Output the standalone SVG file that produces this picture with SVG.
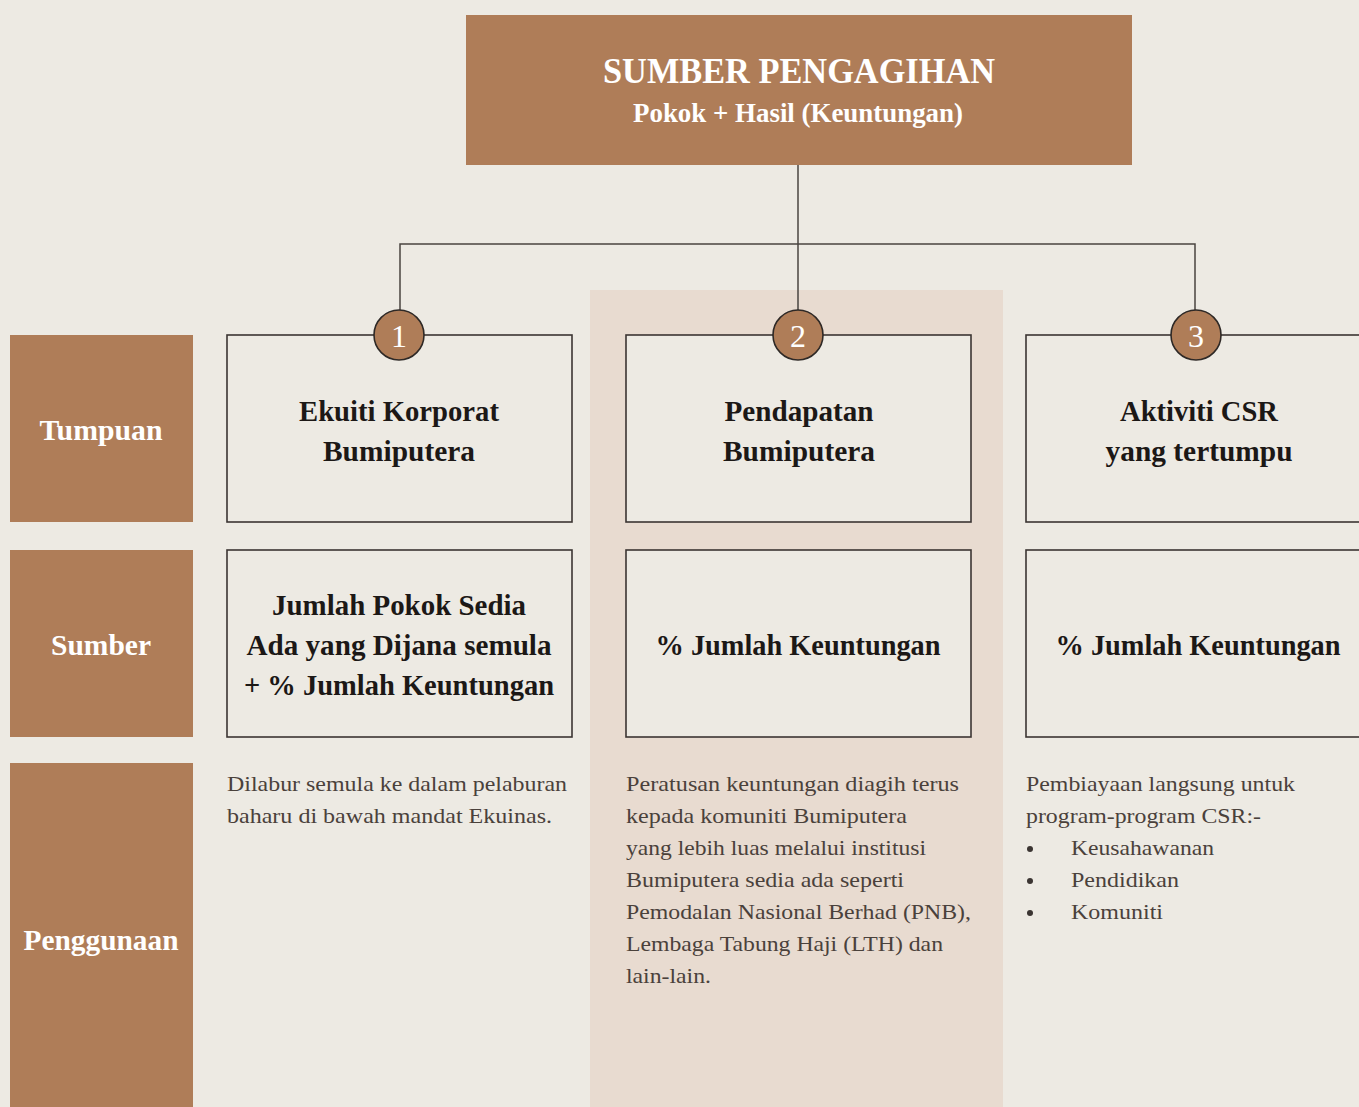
<svg xmlns="http://www.w3.org/2000/svg" width="1359" height="1107" viewBox="0 0 1359 1107">
<style>
.bg{fill:#EDEAE3}
.brown{fill:#AF7D58}
.box{fill:#EDEAE3;stroke:#3b3532;stroke-width:1.6}
.circ{fill:#AF7D58;stroke:#2e2926;stroke-width:1.6}
.conn{fill:none;stroke:#4a4440;stroke-width:1.5}
.lbl{font-family:"Liberation Serif",serif;font-weight:bold;font-size:30px;fill:#ffffff;text-anchor:middle}
.ttl{font-family:"Liberation Serif",serif;font-weight:bold;fill:#ffffff;text-anchor:middle}
.num{font-family:"Liberation Serif",serif;font-size:32px;fill:#ffffff;text-anchor:middle}
.bt{font-family:"Liberation Serif",serif;font-weight:bold;font-size:30px;fill:#1c1816;text-anchor:middle}
.us{font-family:"Liberation Serif",serif;font-size:22px;fill:#4a413b}
</style>
<rect class="bg" x="0" y="0" width="1359" height="1107"/>
<rect x="590" y="290" width="413" height="817" fill="#E8DBD0"/>

<g id="connectors">
<path class="conn" d="M798 165 V310"/>
<path class="conn" d="M400 310 V244 H1195 V310"/>
</g>

<g id="root">
<rect class="brown" x="466" y="15" width="666" height="150"/>
<text class="ttl" x="799" y="83" font-size="36" textLength="392" lengthAdjust="spacingAndGlyphs">SUMBER PENGAGIHAN</text>
<text class="ttl" x="798" y="122" font-size="27" textLength="330" lengthAdjust="spacingAndGlyphs">Pokok + Hasil (Keuntungan)</text>
</g>

<g id="label-tumpuan">
<rect class="brown" x="10" y="335" width="183" height="187"/>
<text class="lbl" x="101" y="440" textLength="123" lengthAdjust="spacingAndGlyphs">Tumpuan</text>
</g>
<g id="label-sumber">
<rect class="brown" x="10" y="550" width="183" height="187"/>
<text class="lbl" x="101" y="655" textLength="100" lengthAdjust="spacingAndGlyphs">Sumber</text>
</g>
<g id="label-penggunaan">
<rect class="brown" x="10" y="763" width="183" height="344"/>
<text class="lbl" x="101" y="950" textLength="155" lengthAdjust="spacingAndGlyphs">Penggunaan</text>
</g>

<g id="tumpuan-1">
<rect class="box" x="227" y="335" width="345" height="187"/>
<text class="bt" x="399" y="421" textLength="200" lengthAdjust="spacingAndGlyphs">Ekuiti Korporat</text>
<text class="bt" x="399" y="461" textLength="152" lengthAdjust="spacingAndGlyphs">Bumiputera</text>
</g>
<g id="tumpuan-2">
<rect class="box" x="626" y="335" width="345" height="187"/>
<text class="bt" x="799" y="421" textLength="149" lengthAdjust="spacingAndGlyphs">Pendapatan</text>
<text class="bt" x="799" y="461" textLength="152" lengthAdjust="spacingAndGlyphs">Bumiputera</text>
</g>
<g id="tumpuan-3">
<rect class="box" x="1026" y="335" width="345" height="187"/>
<text class="bt" x="1199" y="421" textLength="158" lengthAdjust="spacingAndGlyphs">Aktiviti CSR</text>
<text class="bt" x="1199" y="461" textLength="187" lengthAdjust="spacingAndGlyphs">yang tertumpu</text>
</g>

<g id="badge-1">
<circle class="circ" cx="399" cy="335" r="25"/>
<text class="num" x="399" y="347">1</text>
</g>
<g id="badge-2">
<circle class="circ" cx="798" cy="335" r="25"/>
<text class="num" x="798" y="347">2</text>
</g>
<g id="badge-3">
<circle class="circ" cx="1196" cy="335" r="25"/>
<text class="num" x="1196" y="347">3</text>
</g>

<g id="sumber-1">
<rect class="box" x="227" y="550" width="345" height="187"/>
<text class="bt" x="399" y="615" textLength="254" lengthAdjust="spacingAndGlyphs">Jumlah Pokok Sedia</text>
<text class="bt" x="399" y="655" textLength="305" lengthAdjust="spacingAndGlyphs">Ada yang Dijana semula</text>
<text class="bt" x="399" y="695" textLength="310" lengthAdjust="spacingAndGlyphs">+ % Jumlah Keuntungan</text>
</g>
<g id="sumber-2">
<rect class="box" x="626" y="550" width="345" height="187"/>
<text class="bt" x="798" y="655" textLength="285" lengthAdjust="spacingAndGlyphs">% Jumlah Keuntungan</text>
</g>
<g id="sumber-3">
<rect class="box" x="1026" y="550" width="345" height="187"/>
<text class="bt" x="1198" y="655" textLength="285" lengthAdjust="spacingAndGlyphs">% Jumlah Keuntungan</text>
</g>

<g id="penggunaan-1">
<text class="us" x="227" y="791" textLength="340" lengthAdjust="spacingAndGlyphs">Dilabur semula ke dalam pelaburan</text>
<text class="us" x="227" y="823" textLength="325" lengthAdjust="spacingAndGlyphs">baharu di bawah mandat Ekuinas.</text>
</g>
<g id="penggunaan-2">
<text class="us" x="626" y="791" textLength="333" lengthAdjust="spacingAndGlyphs">Peratusan keuntungan diagih terus</text>
<text class="us" x="626" y="823" textLength="281" lengthAdjust="spacingAndGlyphs">kepada komuniti Bumiputera</text>
<text class="us" x="626" y="855" textLength="300" lengthAdjust="spacingAndGlyphs">yang lebih luas melalui institusi</text>
<text class="us" x="626" y="887" textLength="278" lengthAdjust="spacingAndGlyphs">Bumiputera sedia ada seperti</text>
<text class="us" x="626" y="919" textLength="345" lengthAdjust="spacingAndGlyphs">Pemodalan Nasional Berhad (PNB),</text>
<text class="us" x="626" y="951" textLength="317" lengthAdjust="spacingAndGlyphs">Lembaga Tabung Haji (LTH) dan</text>
<text class="us" x="626" y="983" textLength="85" lengthAdjust="spacingAndGlyphs">lain-lain.</text>
</g>
<g id="penggunaan-3">
<text class="us" x="1026" y="791" textLength="269" lengthAdjust="spacingAndGlyphs">Pembiayaan langsung untuk</text>
<text class="us" x="1026" y="823" textLength="235" lengthAdjust="spacingAndGlyphs">program-program CSR:-</text>
<circle cx="1030" cy="849" r="3" fill="#3b3532"/>
<text class="us" x="1071" y="855" textLength="143" lengthAdjust="spacingAndGlyphs">Keusahawanan</text>
<circle cx="1030" cy="881" r="3" fill="#3b3532"/>
<text class="us" x="1071" y="887" textLength="108" lengthAdjust="spacingAndGlyphs">Pendidikan</text>
<circle cx="1030" cy="913" r="3" fill="#3b3532"/>
<text class="us" x="1071" y="919" textLength="92" lengthAdjust="spacingAndGlyphs">Komuniti</text>
</g>
</svg>
